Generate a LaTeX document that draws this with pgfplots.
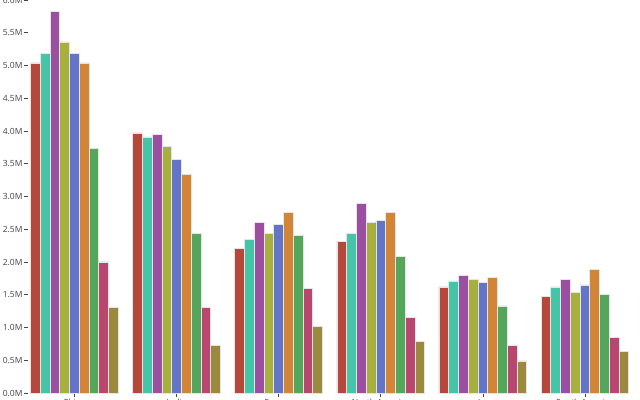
\documentclass[border=0pt]{standalone}
\usepackage{fontspec}
\setmainfont{Open Sans}
\usepackage{pgfplots}
\pgfplotsset{compat=1.18}
\definecolor{c1}{RGB}{181,72,58}
\definecolor{c2}{RGB}{69,196,168}
\definecolor{c3}{RGB}{154,79,160}
\definecolor{c4}{RGB}{168,176,61}
\definecolor{c5}{RGB}{100,117,200}
\definecolor{c6}{RGB}{210,133,54}
\definecolor{c7}{RGB}{84,166,90}
\definecolor{c8}{RGB}{185,70,110}
\definecolor{c9}{RGB}{155,138,62}
\definecolor{tickc}{RGB}{68,68,68}
\begin{document}
\begin{tikzpicture}
\begin{axis}[
  name=ax,
  scale only axis,
  width=607.5bp, height=393bp,
  xmin=-0.45, xmax=5.5,
  ymin=0, ymax=6,
  axis line style={draw=none},
  ybar=0pt,
  bar width=9.75bp,
  xtick={0,1,2,3,4,5},
  xticklabels={China,India,Europe,North America,Africa,South America},
  ytick={0,0.5,1,1.5,2,2.5,3,3.5,4,4.5,5,5.5,6},
  yticklabel={\pgfmathprintnumber[fixed,fixed zerofill,precision=1]{\tick}M},
  /pgf/number format/assume math mode=true,
  tick align=outside,
  major tick length=4bp,
  tick style={tickc, line width=0.6bp},
  xtick pos=bottom, ytick pos=left,
  ticklabel style={font=\fontsize{8.5bp}{10bp}\selectfont, text=tickc},
  yticklabel style={xshift=1.5bp},
  xticklabel style={yshift=1bp},
  every axis plot/.append style={draw=white!80!gray, line width=0.7bp},
  clip=false,
]
\addplot[fill=c1] coordinates {(0,5.04) (1,3.97) (2,2.21) (3,2.32) (4,1.62) (5,1.47)};
\addplot[fill=c2] coordinates {(0,5.18) (1,3.91) (2,2.34) (3,2.44) (4,1.71) (5,1.62)};
\addplot[fill=c3] coordinates {(0,5.82) (1,3.95) (2,2.60) (3,2.90) (4,1.79) (5,1.73)};
\addplot[fill=c4] coordinates {(0,5.36) (1,3.77) (2,2.43) (3,2.61) (4,1.73) (5,1.53)};
\addplot[fill=c5] coordinates {(0,5.18) (1,3.56) (2,2.58) (3,2.63) (4,1.69) (5,1.65)};
\addplot[fill=c6] coordinates {(0,5.04) (1,3.34) (2,2.76) (3,2.76) (4,1.77) (5,1.89)};
\addplot[fill=c7] coordinates {(0,3.74) (1,2.43) (2,2.40) (3,2.09) (4,1.33) (5,1.50)};
\addplot[fill=c8] coordinates {(0,2.00) (1,1.30) (2,1.60) (3,1.16) (4,0.73) (5,0.85)};
\addplot[fill=c9] coordinates {(0,1.31) (1,0.73) (2,1.02) (3,0.79) (4,0.49) (5,0.63)};
\end{axis}
\pgfresetboundingbox
\useasboundingbox ([xshift=-28.5bp,yshift=-7bp]ax.south west) rectangle ([xshift=4bp]ax.north east);
\end{tikzpicture}
\end{document}
